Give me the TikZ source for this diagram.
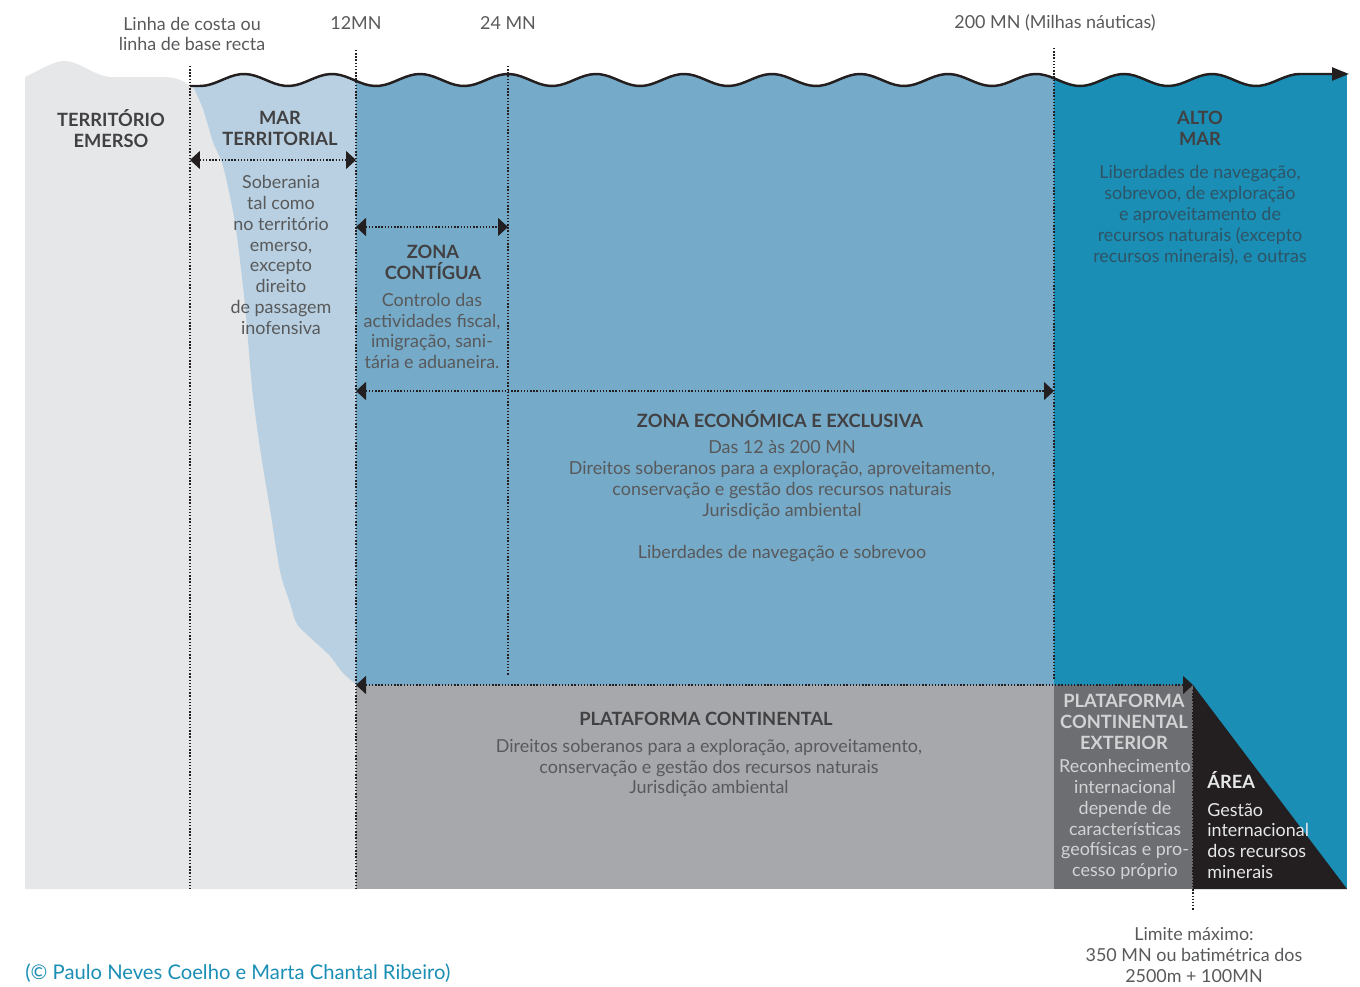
\documentclass[tikz,border=0pt]{standalone}
\usepackage{fontspec}
\setmainfont{Lato}
\usetikzlibrary{arrows.meta}

\definecolor{landgray}{HTML}{E6E7E8}
\definecolor{terrsea}{HTML}{B8D0E1}
\definecolor{eezblue}{HTML}{75AAC8}
\definecolor{highsea}{HTML}{1A8EB4}
\definecolor{shelfgray}{HTML}{A7A8AB}
\definecolor{outergray}{HTML}{6D6E71}
\definecolor{areablack}{HTML}{231F20}
\definecolor{textgray}{HTML}{58595B}
\definecolor{headgray}{HTML}{414042}
\definecolor{seatext}{HTML}{2E5466}
\definecolor{palegray}{HTML}{D1D3D4}

\begin{document}
\begin{tikzpicture}
  [x=0.02cm, y=-0.02cm, font=\fontsize{10.2}{11.9}\selectfont]
  \tikzstyle{body}  = [text=textgray, align=center, inner sep=0pt];
  \tikzstyle{title} = [body, text=headgray, font=\fontsize{10.4}{11.9}\selectfont\bfseries];
  \tikzstyle{bound} = [draw=areablack, line width=0.8pt, dash pattern=on 0.8pt off 1pt];
  \tikzstyle{extent} = [bound, {Triangle[length=2mm,width=3.6mm]}-{Triangle[length=2mm,width=3.6mm]}];

  \useasboundingbox (0,0) rectangle (1360,987);

  % land
  \fill[landgray] (25,889) -- (25,77) .. controls (40,70) and (55,60) .. (66,61)
    .. controls (80,62) and (95,76) .. (110,77) -- (165,77)
    .. controls (180,78) and (186,82) .. (191,87) -- (356,87) -- (356,889) -- cycle;

  % sea zones under the waves
  \begin{scope}
    \clip (190,86) -- plot[domain=200:1300, samples=221] (\x, {80-6*cos(4.0909*(\x-244))})
      -- (1347,74) -- (1347,889) -- (190,889) -- cycle;
    \fill[terrsea] (190,86) -- plot[domain=200:356, samples=40] (\x, {80-6*cos(4.0909*(\x-244))})
      -- (356,684) -- plot[smooth] coordinates {(356,684) (343,673) (330,656) (313,640)
      (297,624) (290,603) (280,571) (270,509) (260,448) (252,387) (245,305) (235,223)
      (223,166) (213,142) (203,109) (192,84)} -- cycle;
    \fill[eezblue] (356,0) rectangle (1054,685);
    \fill[highsea] (1054,0) rectangle (1347,889);
  \end{scope}

  \fill[shelfgray] (356,685) rectangle (1054,889);
  \fill[outergray] (1054,685) rectangle (1193,889);
  \fill[areablack] (1193,685) -- (1193,889) -- (1347,889) -- cycle;

  \draw[areablack, line width=1.4pt, line join=round, -{Triangle[length=3.4mm,width=2.6mm]}]
    (190,86) -- plot[domain=200:1300, samples=221] (\x, {80-6*cos(4.0909*(\x-244))}) -- (1349,74);

  % limits
  \coordinate (base top) at (190,66);
  \coordinate (base bot) at (190,889);
  \coordinate (mn12 top) at (356,50);
  \coordinate (mn12 bot) at (356,889);
  \coordinate (mn24 top) at (508,66);
  \coordinate (mn24 bot) at (508,675);
  \coordinate (mn200 top) at (1054,48);
  \coordinate (mn200 bot) at (1054,680);
  \coordinate (max top) at (1193,690);
  \coordinate (max bot) at (1193,910);

  \draw[bound] (base top) -- (base bot);
  \draw[bound] (mn12 top) -- (mn12 bot);
  \draw[bound] (mn24 top) -- (mn24 bot);
  \draw[bound] (mn200 top) -- (mn200 bot);
  \draw[bound] (max top) -- (max bot);

  \coordinate (ts l) at (190,160);
  \coordinate (ts r) at (356,160);
  \coordinate (cz l) at (356,227);
  \coordinate (cz r) at (508,227);
  \coordinate (eez l) at (356,391);
  \coordinate (eez r) at (1054,391);
  \coordinate (cs l) at (356,685);
  \coordinate (cs r) at (1193,685);

  \draw[extent] (ts l) -- (ts r);
  \draw[extent] (cz l) -- (cz r);
  \draw[extent] (eez l) -- (eez r);
  \draw[extent] (cs l) -- (cs r);

  \node[body] (coast) at (192,34) {Linha de costa ou\\linha de base recta};
  \node[body] (mn12) at (356,23) {12MN};
  \node[body] (mn24) at (508,23) {24 MN};
  \node[body] (mn200) at (1055,23) {200 MN (Milhas náuticas)};

  \node[title] (land) at (111,128.5) {TERRITÓRIO\\EMERSO};

  \node[title] (ts title) at (280,128.5) {MAR\\TERRITORIAL};
  \node[body] (ts text) at (281,255) {Soberania\\tal como\\no território\\emerso,\\excepto\\direito\\de passagem\\inofensiva};

  \node[title] (cz title) at (433,262.5) {ZONA\\CONTÍGUA};
  \node[body] (cz text) at (432,331) {Controlo das\\actividades fiscal,\\imigração, sani-\\tária e aduaneira.};

  \node[title] (eez title) at (780,419) {ZONA ECONÓMICA E EXCLUSIVA};
  \node[body] (eez text) at (782,501) {Das 12 às 200 MN\\Direitos soberanos para a exploração, aproveitamento,\\conservação e gestão dos recursos naturais\\Jurisdição ambiental\\[11.9pt]Liberdades de navegação e sobrevoo};

  \node[title] (hs title) at (1200,128.5) {ALTO\\MAR};
  \node[body, text=seatext] (hs text) at (1200,215) {Liberdades de navegação,\\sobrevoo, de exploração\\e aproveitamento de\\recursos naturais (excepto\\recursos minerais), e outras};

  \node[title] (cs title) at (706,719) {PLATAFORMA CONTINENTAL};
  \node[body] (cs text) at (709,768) {Direitos soberanos para a exploração, aproveitamento,\\conservação e gestão dos recursos naturais\\Jurisdição ambiental};

  \node[title, text=palegray] (ocs title) at (1124,722) {PLATAFORMA\\CONTINENTAL\\EXTERIOR};
  \node[body, text=palegray] (ocs text) at (1125,819.5) {Reconhecimento\\internacional\\depende de\\características\\geofísicas e pro-\\cesso próprio};

  \node[title, text=landgray, anchor=west] (area title) at (1207,780) {ÁREA};
  \node[body, text=landgray, align=left, anchor=west] (area text) at (1207,841) {Gestão\\internacional\\dos recursos\\minerais};

  \node[body] (max text) at (1194,955) {Limite máximo:\\350 MN ou batimétrica dos\\2500m + 100MN};

  \node[body, text=highsea, anchor=west, font=\fontsize{11.5}{13}\selectfont] (credit) at (25,973) {(© Paulo Neves Coelho e Marta Chantal Ribeiro)};
\end{tikzpicture}
\end{document}
